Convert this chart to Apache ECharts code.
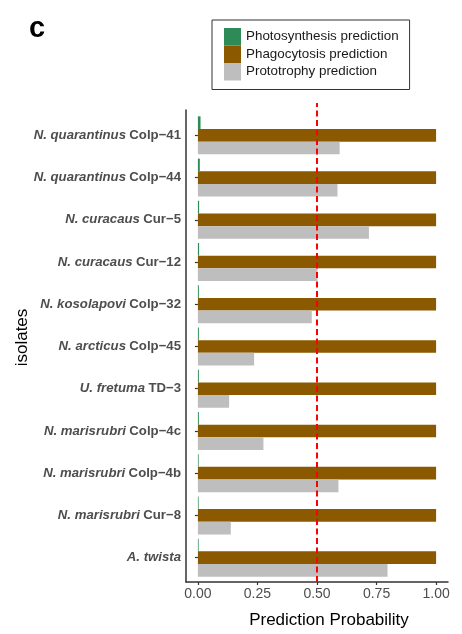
<!DOCTYPE html>
<html>
<head>
<meta charset="utf-8">
<script src="https://cdn.jsdelivr.net/npm/echarts@6/dist/echarts.min.js"></script>
<style>
  html, body { margin: 0; padding: 0; background: #fff; }
  #chart { width: 462px; height: 634px; }
</style>
</head>
<body>
<div id="chart"></div>
<script>
// Isolates, listed top to bottom
const species = ['N. quarantinus', 'N. quarantinus', 'N. curacaus', 'N. curacaus', 'N. kosolapovi',
  'N. arcticus', 'U. fretuma', 'N. marisrubri', 'N. marisrubri', 'N. marisrubri', 'A. twista'];
const strains = ['Colp\u221241', 'Colp\u221244', 'Cur\u22125', 'Cur\u221212', 'Colp\u221232',
  'Colp\u221245', 'TD\u22123', 'Colp\u22124c', 'Colp\u22124b', 'Cur\u22128', ''];

// Predicted probabilities for each trophic mode
const photosynthesis = [0.011, 0.008, 0.005, 0.005, 0.004, 0.004, 0.004, 0.004, 0.003, 0.003, 0.003];
const phagocytosis   = [1, 1, 1, 1, 1, 1, 1, 1, 1, 1, 1];
const prototrophy    = [0.595, 0.586, 0.718, 0.502, 0.478, 0.236, 0.131, 0.275, 0.590, 0.138, 0.796];

const threshold = 0.5;
const xTicks = [0, 0.25, 0.5, 0.75, 1];

const categories = species.map((s, i) => strains[i] ? s + ' ' + strains[i] : s);

const axisGray = '#333333';
const labelGray = '#4D4D4D';

// Panel frame (axis lines) and the inner band layout with ggplot-like padding
const panel = { left: 186, right: 14, top: 110, bottom: 51 };
const bandPad = (634 - panel.top - panel.bottom) / (categories.length + 0.2) * 0.1;

const chart = echarts.init(document.getElementById('chart'), null, { renderer: 'canvas' });

chart.setOption({
  animation: false,
  backgroundColor: '#ffffff',
  textStyle: { fontFamily: 'Liberation Sans, Arial, sans-serif' },
  title: {
    text: 'c', left: 24, top: 9,
    textStyle: { fontSize: 29, fontWeight: 'bold', color: '#000', fontFamily: 'Liberation Sans, Arial, sans-serif' }
  },
  legend: {
    orient: 'vertical', left: 212, top: 20,
    data: ['Photosynthesis prediction', 'Phagocytosis prediction', 'Prototrophy prediction'],
    icon: 'rect', itemWidth: 17, itemHeight: 17.5, itemGap: 0, itemTextGap: 6,
    padding: [8, 11, 9, 12],
    borderColor: '#333', borderWidth: 1,
    textStyle: { fontSize: 13.4, color: '#1a1a1a' },
    selectedMode: false
  },
  grid: [
    { left: panel.left, right: panel.right, top: panel.top, bottom: panel.bottom },
    { left: panel.left, right: panel.right, top: panel.top + bandPad, bottom: panel.bottom + bandPad }
  ],
  xAxis: [
    {
      gridIndex: 0, type: 'value', min: -0.05, max: 1.05,
      splitLine: { show: false },
      axisLine: { show: true, onZero: false, lineStyle: { color: axisGray, width: 1.5 } },
      axisTick: { show: true, length: 3, customValues: xTicks, lineStyle: { color: axisGray, width: 1.2 } },
      axisLabel: {
        customValues: xTicks, margin: 5, fontSize: 14, color: labelGray,
        formatter: v => v.toFixed(2)
      },
      name: 'Prediction Probability', nameLocation: 'middle', nameGap: 30,
      nameTextStyle: { fontSize: 17, color: '#000', padding: [0, 0, 0, 24] }
    },
    {
      gridIndex: 1, type: 'value', min: -0.05, max: 1.05,
      show: false
    }
  ],
  yAxis: [
    {
      gridIndex: 0, type: 'value', min: 0, max: 1,
      splitLine: { show: false },
      axisLine: { show: true, onZero: false, lineStyle: { color: axisGray, width: 1.5 } },
      axisTick: { show: false },
      axisLabel: { show: false },
      name: 'isolates', nameLocation: 'middle', nameGap: 155, nameRotate: 90,
      nameTextStyle: { fontSize: 17, color: '#000', padding: [0, 0, 0, 17] }
    },
    {
      gridIndex: 1, type: 'category', data: categories, inverse: true,
      axisLine: { show: false },
      axisTick: { show: true, alignWithLabel: true, length: 3, lineStyle: { color: axisGray, width: 1.2 } },
      axisLabel: {
        margin: 5,
        formatter: (v, i) => strains[i] ? '{i|' + species[i] + '} {b|' + strains[i] + '}' : '{i|' + species[i] + '}',
        rich: {
          i: { fontSize: 13.2, fontWeight: 'bold', fontStyle: 'italic', color: labelGray },
          b: { fontSize: 13.2, fontWeight: 'bold', color: labelGray }
        }
      }
    }
  ],
  series: [
    {
      name: 'Photosynthesis prediction', type: 'bar', xAxisIndex: 1, yAxisIndex: 1,
      data: photosynthesis, itemStyle: { color: '#2E8B57' },
      barGap: '0%', barCategoryGap: '10%'
    },
    {
      name: 'Phagocytosis prediction', type: 'bar', xAxisIndex: 1, yAxisIndex: 1,
      data: phagocytosis, itemStyle: { color: '#8B5A00' },
      barGap: '0%', barCategoryGap: '10%'
    },
    {
      name: 'Prototrophy prediction', type: 'bar', xAxisIndex: 1, yAxisIndex: 1,
      data: prototrophy, itemStyle: { color: '#BEBEBE' },
      barGap: '0%', barCategoryGap: '10%'
    },
    {
      // dashed 0.5 threshold spanning the panel height
      name: 'threshold', type: 'line', xAxisIndex: 0, yAxisIndex: 0, z: 10,
      data: [[threshold, 0], [threshold, 1.015]],
      showSymbol: false, symbol: 'none', clip: false, silent: true,
      lineStyle: { color: '#FF0000', width: 2, type: [6, 3.5] }
    }
  ]
});
</script>
</body>
</html>
